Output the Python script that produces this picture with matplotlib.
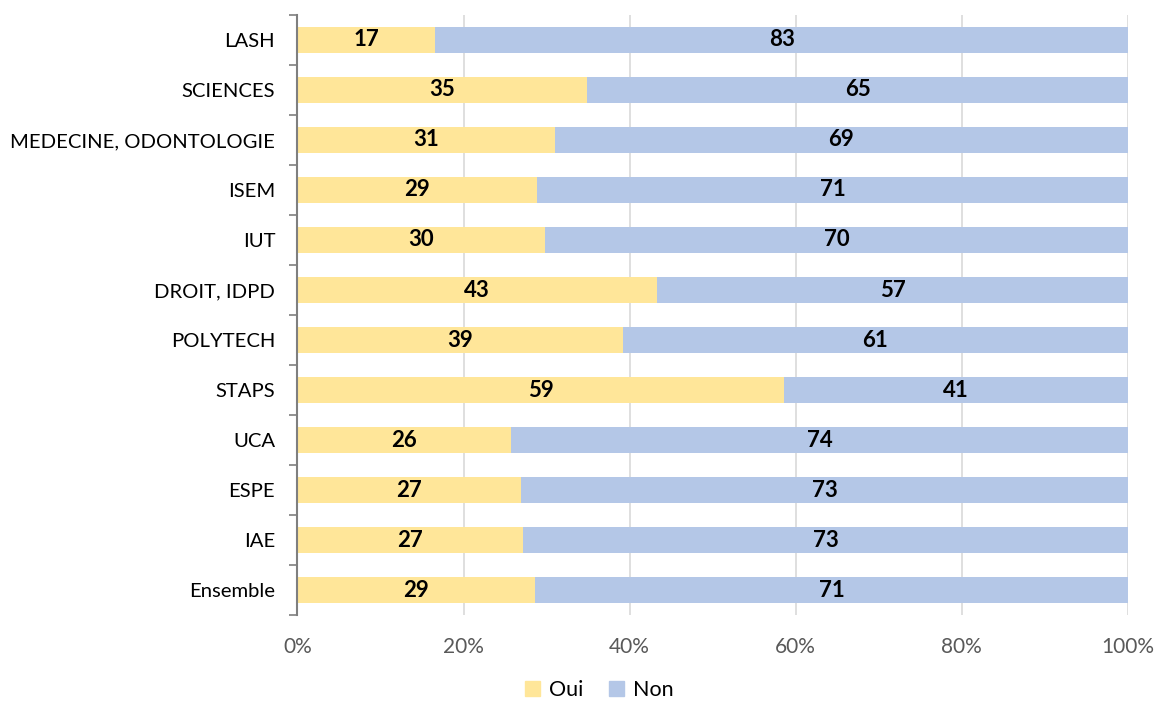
import numpy as np
import matplotlib.pyplot as plt
from matplotlib.patches import Patch

# Données (en %)
categories = ['LASH', 'SCIENCES', 'MEDECINE, ODONTOLOGIE', 'ISEM', 'IUT',
              'DROIT, IDPD', 'POLYTECH', 'STAPS', 'UCA', 'ESPE', 'IAE', 'Ensemble']
oui = [16.6, 34.9, 31.0, 28.9, 29.8, 43.3, 39.2, 58.6, 25.7, 26.9, 27.2, 28.6]
non = [100 - v for v in oui]
series_names = ['Oui', 'Non']
x_ticks = [0, 20, 40, 60, 80, 100]
x_ticklabels = ['0%', '20%', '40%', '60%', '80%', '100%']

col_oui = '#FFE699'
col_non = '#B4C7E7'

plt.rcParams['font.family'] = ['Lato', 'DejaVu Sans']

fig = plt.figure(figsize=(11.57, 7.07), dpi=100)
ax = fig.add_axes([0.2571, 0.1301, 0.7178, 0.8487])

y = np.arange(len(categories))
ax.barh(y, oui, height=0.52, color=col_oui, zorder=2)
ax.barh(y, non, left=oui, height=0.52, color=col_non, zorder=2)

# Etiquettes de données
for i in range(len(categories)):
    ax.text(oui[i] / 2, y[i], f'{round(oui[i])}', ha='center', va='center',
            fontsize=16, fontweight='bold', color='black', zorder=3)
    ax.text(oui[i] + non[i] / 2, y[i], f'{round(non[i])}', ha='center', va='center',
            fontsize=16, fontweight='bold', color='black', zorder=3)

ax.set_xlim(0, 100)
ax.set_ylim(len(categories) - 0.5, -0.5)
ax.set_xticks(x_ticks)
ax.set_xticklabels(x_ticklabels, fontsize=15, color='#595959')
ax.set_yticks(y)
ax.set_yticklabels(categories, fontsize=14.6, color='black')
ax.set_yticks(np.arange(len(categories) + 1) - 0.5, minor=True)
ax.tick_params(axis='y', which='major', length=0, pad=16)
ax.tick_params(axis='y', which='minor', length=6, width=1.2, color='#7F7F7F')
ax.tick_params(axis='x', length=0, pad=16)

ax.grid(axis='x', color='#D9D9D9', linewidth=1.2, zorder=0)
for s in ['top', 'right', 'bottom']:
    ax.spines[s].set_visible(False)
ax.spines['left'].set_color('#7F7F7F')
ax.spines['left'].set_linewidth(1.5)
ax.spines['left'].set_zorder(4)

handles = [Patch(color=col_oui), Patch(color=col_non)]
fig.legend(handles, series_names, loc='lower center', bbox_to_anchor=(0.518, -0.018),
           ncol=2, frameon=False, fontsize=15.5, handlelength=0.7, handleheight=0.7,
           handletextpad=0.4, columnspacing=1.2)

fig.savefig('out.png', dpi=100)
